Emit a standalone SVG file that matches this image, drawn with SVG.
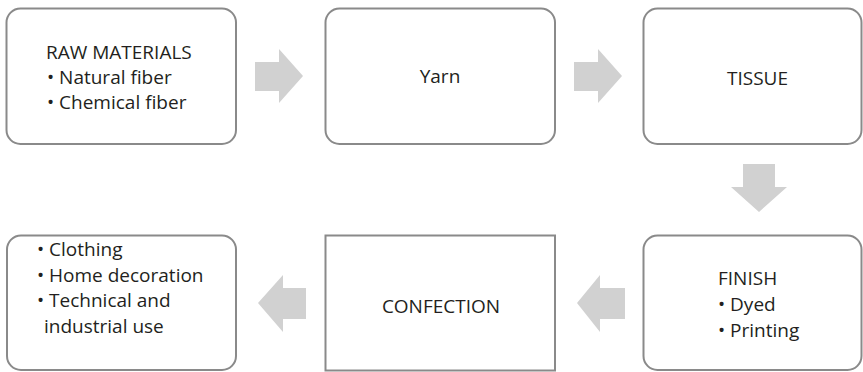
<svg xmlns="http://www.w3.org/2000/svg" width="863" height="372" viewBox="0 0 863 372">
<style>
.box{fill:#ffffff;stroke:#8a8a8a;stroke-width:2}
.arr{fill:#d1d1d1;stroke:none}
text{font-family:"Open Sans","Noto Sans","Liberation Sans",sans-serif;font-size:19px;fill:#231f20}
.c{text-anchor:middle}
</style>
<rect width="863" height="372" fill="#ffffff"/>
<g id="raw-materials">
<rect class="box" x="6.5" y="8.5" width="229.5" height="135.5" rx="14"/>
<text x="46" y="59">RAW MATERIALS</text>
<text x="47" y="84">• Natural fiber</text>
<text x="47" y="109">• Chemical fiber</text>
</g>
<g id="yarn">
<rect class="box" x="325.5" y="8.5" width="229.5" height="135.5" rx="14"/>
<text class="c" x="440" y="83">Yarn</text>
</g>
<g id="tissue">
<rect class="box" x="643.5" y="8.5" width="218" height="135.5" rx="14"/>
<text x="727" y="85">TISSUE</text>
</g>
<g id="finish">
<rect class="box" x="643.5" y="235.5" width="218" height="134.5" rx="14"/>
<text x="718" y="285">FINISH</text>
<text x="718" y="311">• Dyed</text>
<text x="718" y="337">• Printing</text>
</g>
<g id="confection">
<rect class="box" x="325.5" y="235.5" width="229.5" height="135"/>
<text class="c" x="441" y="313">CONFECTION</text>
</g>
<g id="uses">
<rect class="box" x="7" y="235.5" width="229" height="134.5" rx="14"/>
<text x="37" y="256">• Clothing</text>
<text x="37" y="282">• Home decoration</text>
<text x="37" y="307">• Technical and</text>
<text x="44" y="333">industrial use</text>
</g>
<g id="connectors">
<polygon class="arr" points="255,62 279,62 279,49 303,76 279,103 279,91 255,91"/>
<polygon class="arr" points="574,62 598,62 598,49 622,76 598,103 598,91 574,91"/>
<polygon class="arr" points="743,164 775,164 775,187 787,187 759,212 731,187 743,187"/>
<polygon class="arr" points="625,288 600,288 600,275 577,303 600,332 600,319 625,319"/>
<polygon class="arr" points="306,288 283,288 283,275 258,303 283,332 283,319 306,319"/>
</g>
</svg>
